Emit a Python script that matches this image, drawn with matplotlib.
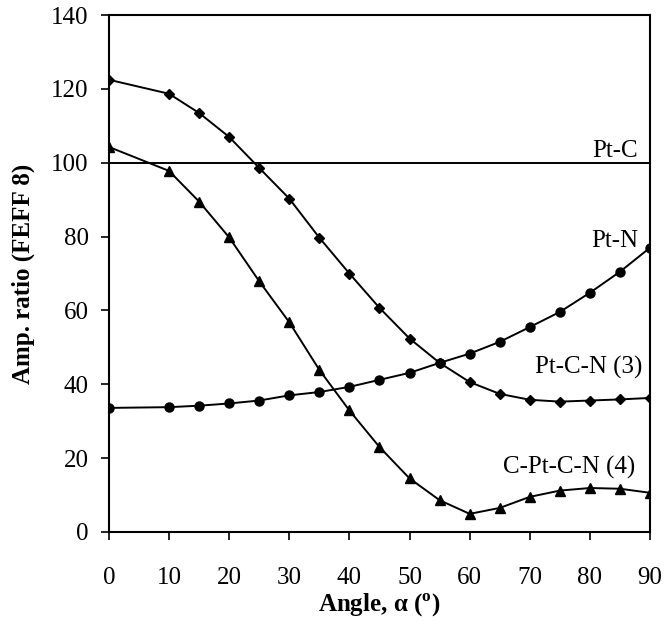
import numpy as np
import matplotlib.pyplot as plt

plt.rcParams['font.family'] = ['Liberation Serif', 'DejaVu Serif']

# Angle values (degrees)
angle = [0, 10, 15, 20, 25, 30, 35, 40, 45, 50, 55, 60, 65, 70, 75, 80, 85, 90]

# Pt-C-N (3) - diamonds
ptcn = [122.5, 118.7, 113.5, 107.0, 98.6, 90.3, 79.7, 70.0, 60.7, 52.4, 45.8,
        40.6, 37.4, 35.8, 35.3, 35.6, 35.9, 36.3]
# Pt-N - circles
ptn = [33.6, 33.8, 34.2, 34.8, 35.6, 37.0, 37.9, 39.3, 41.2, 43.1, 45.8,
       48.3, 51.5, 55.5, 59.6, 64.8, 70.5, 77.0]
# C-Pt-C-N (4) - triangles
cptcn = [104.3, 97.8, 89.5, 79.8, 67.9, 56.8, 43.9, 32.9, 23.0, 14.5, 8.6,
         4.9, 6.5, 9.5, 11.2, 11.9, 11.7, 10.6]
# Pt-C - reference line
ptc_x = [0, 90]
ptc = [100, 100]

fig = plt.figure(figsize=(6.64, 6.31), dpi=100)
ax = fig.add_axes([0.164, 0.157, 0.815, 0.819])

ax.plot(ptc_x, ptc, color='black', lw=1.4)
ax.plot(angle, ptcn, color='black', lw=1.4, marker='D', ms=5.5)
ax.plot(angle, ptn, color='black', lw=1.4, marker='o', ms=6.5)
ax.plot(angle, cptcn, color='black', lw=1.4, marker='^', ms=7)

ax.set_xlim(0, 90)
ax.set_ylim(0, 140)
ax.set_xticks(np.arange(0, 91, 10))
ax.set_yticks(np.arange(0, 141, 20))
ax.tick_params(direction='out', length=5.5, width=1.2, labelsize=18, pad=9)
ax.tick_params(axis='x', pad=20)
for s in ax.spines.values():
    s.set_linewidth(1.5)

ax.text(88, 101.6, 'Pt-C', ha='right', va='baseline', fontsize=18)
ax.text(88, 77.3, 'Pt-N', ha='right', va='baseline', fontsize=18)
ax.text(88.8, 42.8, 'Pt-C-N (3)', ha='right', va='baseline', fontsize=18)
ax.text(87.5, 15.7, 'C-Pt-C-N (4)', ha='right', va='baseline', fontsize=18)

ax.set_xlabel(r'Angle, $\mathregular{\alpha}$ ($^{\mathregular{o}}$)', fontsize=18,
              fontweight='bold', labelpad=2)
ax.set_ylabel('Amp. ratio (FEFF 8)', fontsize=18, fontweight='bold', labelpad=12)

fig.savefig('out.png', dpi=100)
